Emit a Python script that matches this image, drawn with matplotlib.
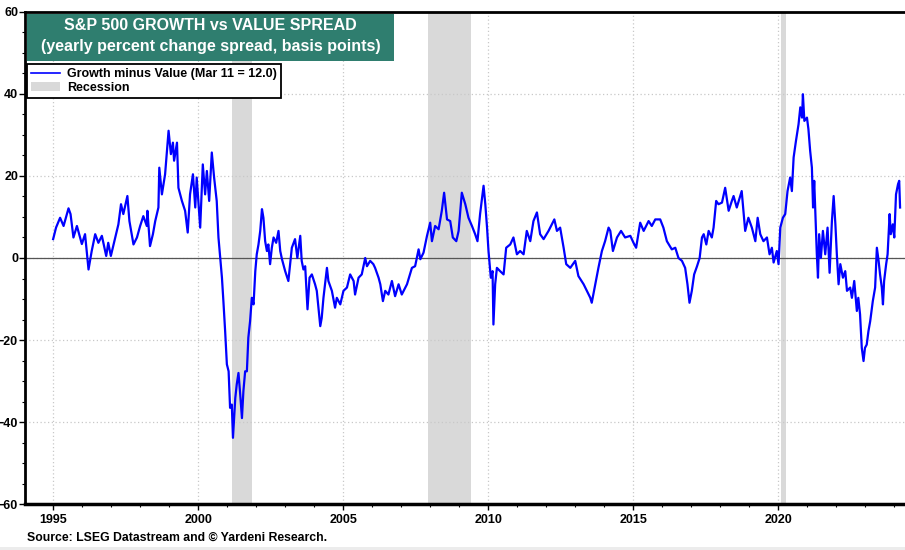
import matplotlib
matplotlib.use('Agg')
import matplotlib.pyplot as plt
from matplotlib.patches import Rectangle, Patch
from matplotlib.lines import Line2D
from matplotlib.ticker import MultipleLocator

plt.rcParams['font.family'] = ['Liberation Sans', 'DejaVu Sans']
plt.rcParams['font.weight'] = 'bold'

# Growth minus Value spread (decimal years)
years = [
    1995.00, 1995.10, 1995.24, 1995.36, 1995.53, 1995.60, 1995.70, 1995.82, 1995.99,
    1996.10, 1996.22, 1996.33, 1996.45, 1996.56, 1996.68, 1996.83, 1996.90, 1996.99,
    1997.14, 1997.25, 1997.34, 1997.42, 1997.56, 1997.63, 1997.77, 1997.89,
    1998.00, 1998.11, 1998.23, 1998.25, 1998.34, 1998.44, 1998.52, 1998.63, 1998.66,
    1998.75, 1998.86, 1998.98, 1999.06, 1999.13, 1999.17, 1999.27, 1999.32, 1999.44,
    1999.55, 1999.64, 1999.72, 1999.82, 1999.90, 1999.95,
    2000.07, 2000.16, 2000.24, 2000.30, 2000.38, 2000.47, 2000.55, 2000.64, 2000.70,
    2000.76, 2000.82, 2000.87, 2000.93, 2000.99,
    2001.05, 2001.10, 2001.16, 2001.20, 2001.28, 2001.33, 2001.39, 2001.45, 2001.51,
    2001.56, 2001.62, 2001.68, 2001.73, 2001.79, 2001.85, 2001.91, 2001.97,
    2002.02, 2002.08, 2002.14, 2002.20, 2002.25, 2002.31, 2002.37, 2002.42, 2002.48,
    2002.54, 2002.60, 2002.69, 2002.77, 2002.83, 2002.89,
    2003.00, 2003.11, 2003.17, 2003.23, 2003.34, 2003.42, 2003.52, 2003.57, 2003.63,
    2003.69, 2003.77, 2003.84, 2003.92,
    2004.03, 2004.09, 2004.21, 2004.26, 2004.32, 2004.44, 2004.49, 2004.61, 2004.72,
    2004.78, 2004.90,
    2005.01, 2005.13, 2005.24, 2005.36, 2005.41, 2005.53, 2005.64, 2005.76, 2005.82,
    2005.93,
    2006.04, 2006.10, 2006.22, 2006.28, 2006.37, 2006.45, 2006.56, 2006.68, 2006.79,
    2006.91,
    2007.02, 2007.20, 2007.37, 2007.48, 2007.60, 2007.66, 2007.77, 2007.89,
    2008.00, 2008.06, 2008.17, 2008.29, 2008.40, 2008.48, 2008.58, 2008.69, 2008.78,
    2008.90, 2008.98,
    2009.09, 2009.21, 2009.32, 2009.44, 2009.55, 2009.63, 2009.72, 2009.84, 2009.90,
    2009.96,
    2010.01, 2010.09, 2010.15, 2010.18, 2010.24, 2010.30, 2010.41, 2010.53, 2010.62,
    2010.76, 2010.87, 2010.99,
    2011.10, 2011.22, 2011.33, 2011.45, 2011.56, 2011.68, 2011.79, 2011.91,
    2012.08, 2012.28, 2012.37, 2012.48, 2012.60, 2012.69, 2012.83,
    2013.00, 2013.11, 2013.29, 2013.40, 2013.52, 2013.57, 2013.69, 2013.80, 2013.92,
    2014.03, 2014.15, 2014.21, 2014.30, 2014.44, 2014.58, 2014.72, 2014.90,
    2015.01, 2015.10, 2015.24, 2015.36, 2015.53, 2015.64, 2015.76, 2015.93,
    2016.04, 2016.16, 2016.33, 2016.45, 2016.56, 2016.68, 2016.79, 2016.87, 2016.94,
    2017.02, 2017.10, 2017.20, 2017.29, 2017.37, 2017.43, 2017.52, 2017.60, 2017.71,
    2017.77, 2017.86, 2017.94,
    2018.06, 2018.17, 2018.29, 2018.40, 2018.46, 2018.57, 2018.74, 2018.86, 2018.97,
    2019.09, 2019.21, 2019.29, 2019.38, 2019.49, 2019.61, 2019.70, 2019.78, 2019.84,
    2019.95,
    2020.01, 2020.07, 2020.16, 2020.24, 2020.32, 2020.41, 2020.47, 2020.53, 2020.61,
    2020.70, 2020.76, 2020.82, 2020.85, 2020.90, 2020.99,
    2021.04, 2021.10, 2021.16, 2021.20, 2021.24, 2021.29, 2021.33, 2021.37, 2021.41,
    2021.47, 2021.54, 2021.62, 2021.70, 2021.77, 2021.85, 2021.91, 2021.97,
    2022.02, 2022.08, 2022.14, 2022.23, 2022.31, 2022.37, 2022.48, 2022.54, 2022.62,
    2022.71, 2022.76, 2022.82, 2022.88, 2022.94, 2022.99,
    2023.05, 2023.11, 2023.17, 2023.26, 2023.34, 2023.40, 2023.46, 2023.51, 2023.57,
    2023.61, 2023.65, 2023.72, 2023.77, 2023.84, 2023.88, 2023.95,
    2024.00, 2024.06, 2024.13, 2024.17, 2024.20,
]
spread = [
    4.6, 7.4, 9.8, 7.8, 12.1, 10.7, 5.0, 7.8, 3.4,
    5.8, -2.8, 1.7, 5.8, 3.7, 5.4, 0.5, 3.7, 0.5,
    5.0, 8.2, 13.1, 10.7, 15.1, 9.0, 3.3, 5.0,
    7.8, 10.2, 7.8, 11.5, 2.9, 5.8, 9.0, 12.3, 22.0,
    15.5, 20.4, 31.0, 25.3, 28.1, 23.7, 28.1, 17.1, 13.9,
    11.5, 6.2, 15.5, 20.4, 12.3, 19.6,
    7.4, 22.8, 15.5, 21.2, 13.9, 25.7, 19.6, 13.9, 5.0,
    0.0, -4.8, -10.5, -17.8, -25.9,
    -27.6, -36.5, -35.7, -43.8, -34.1, -30.8, -28.0, -33.2, -39.0,
    -32.4, -27.6, -27.6, -19.4, -15.4, -9.7, -11.3, -3.2,
    0.9, 3.3, 6.6, 11.9, 9.8, 4.1, 1.7, 3.3, -1.5,
    2.5, 5.0, 3.7, 6.6, 1.7, -0.3,
    -3.2, -5.6, -1.5, 2.5, 4.6, 0.0, 5.4, -0.7, -2.8,
    -2.0, -12.5, -4.8, -4.0,
    -6.4, -8.0, -16.6, -14.6, -9.7, -2.4, -5.6, -8.0, -12.1,
    -9.7, -11.3,
    -8.0, -7.2, -4.0, -5.6, -8.9, -4.8, -4.0, 0.0, -2.0,
    -0.7,
    -1.5, -2.4, -4.8, -6.4, -10.5, -8.0, -8.9, -5.6, -9.3,
    -6.4,
    -8.9, -6.4, -2.4, -2.0, 2.1, -0.3, 1.3, 5.4,
    8.6, 4.1, 7.8, 7.0, 11.5, 15.9, 9.4, 9.0, 5.0,
    4.1, 6.6,
    15.9, 13.1, 9.8, 7.8, 5.8, 4.1, 10.7, 17.6, 13.1,
    7.4,
    1.7, -4.8, -3.2, -16.2, -6.4, -2.4, -3.2, -4.0, 2.5,
    3.3, 5.0, 0.9,
    1.7, 0.9, 6.6, 4.1, 9.0, 11.1, 5.8, 4.6,
    6.6, 9.4, 6.6, 7.4, 2.5, -1.5, -2.4,
    -0.7, -4.4, -6.4, -8.0, -9.7, -10.9, -6.4, -2.4, 1.7,
    4.1, 7.4, 6.6, 1.7, 5.0, 6.6, 5.0, 5.4,
    3.7, 2.5, 8.6, 6.6, 9.0, 7.8, 9.4, 9.4,
    7.4, 4.1, 2.1, 2.5, 0.0, -0.7, -2.4, -6.4, -10.9,
    -8.0, -4.0, -2.0, 0.0, 5.0, 5.8, 3.3, 6.6, 5.0,
    7.4, 13.9, 13.1,
    13.5, 17.1, 11.5, 13.9, 15.1, 12.3, 16.3, 6.6, 9.8,
    7.4, 4.1, 9.8, 5.8, 4.1, 5.0, 0.9, 2.5, -1.1,
    1.7,
    -1.5, 7.4, 9.8, 10.7, 16.3, 19.6, 16.3, 24.5, 28.5,
    32.6, 36.7, 34.2, 39.9, 33.4, 34.2,
    31.4, 26.1, 22.0, 12.3, 18.8, 9.0, 0.9, -4.8, 5.8,
    0.0, 6.6, 0.9, 7.4, -3.6, 9.0, 15.1, 8.2,
    0.9, -6.4, -1.5, -4.8, -3.2, -8.0, -7.2, -9.7, -5.6,
    -12.9, -9.7, -13.7, -21.9, -25.1, -21.9,
    -21.1, -17.8, -15.4, -10.5, -7.2, 2.5, -0.7, -4.0, -7.2,
    -11.3, -5.6, -1.5, 0.9, 10.7, 5.8, 8.2,
    5.0, 15.5, 18.0, 18.8, 12.3,
]

recession_start = [2001.18, 2007.92, 2020.08]
recession_end = [2001.85, 2009.41, 2020.27]

title_lines = ['S&P 500 GROWTH vs VALUE SPREAD',
               '(yearly percent change spread, basis points)']
series_label = 'Growth minus Value (Mar 11 = 12.0)'
source_text = 'Source: LSEG Datastream and \u00a9 Yardeni Research.'

W, H = 905, 550
fig = plt.figure(figsize=(W / 100, H / 100), dpi=100)
ax = fig.add_axes([25 / W, 1 - 504.3 / H, (W - 25) / W, (504.3 - 11.7) / H])

for s, e in zip(recession_start, recession_end):
    ax.axvspan(s, e, color='#d9d9d9', lw=0, zorder=0)

ax.grid(True, which='major', linestyle=(0, (1, 2)), color='#c8c8c8', lw=0.9, zorder=1)
ax.axhline(0, color='#555555', lw=0.9, zorder=2)
ax.plot(years, spread, color='#0000ff', lw=1.6, zorder=3)

ax.set_xlim(1994.03, 2024.37)
ax.set_ylim(-60, 60)
ax.xaxis.set_major_locator(MultipleLocator(5))
ax.xaxis.set_minor_locator(MultipleLocator(1))
ax.yaxis.set_major_locator(MultipleLocator(20))
ax.yaxis.set_minor_locator(MultipleLocator(5))

ax.tick_params(which='major', direction='out', length=4, width=1, labelsize=9)
ax.tick_params(which='minor', direction='out', length=2, width=0.8)
ax.tick_params(axis='x', pad=3)
ax.tick_params(axis='y', pad=1)
for lbl in ax.get_xticklabels() + ax.get_yticklabels():
    lbl.set_fontweight('bold')

ax.spines['left'].set_linewidth(2)
ax.spines['top'].set_linewidth(2)
ax.spines['bottom'].set_linewidth(2.5)
ax.spines['right'].set_visible(False)

# title box
fig.patches.append(Rectangle((27 / W, 1 - 60.7 / H), (394 - 27) / W, (60.7 - 14) / H,
                             transform=fig.transFigure, facecolor='#2f7e6f', edgecolor='none'))
fig.text(210.5 / W, 1 - 25.5 / H, title_lines[0], color='white', fontsize=11.5,
         fontweight='bold', ha='center', va='center')
fig.text(210.5 / W, 1 - 46.5 / H, title_lines[1], color='white', fontsize=11.5,
         fontweight='bold', ha='center', va='center')

# legend
handles = [Line2D([], [], color='#0000ff', lw=1.2), Patch(facecolor='#d9d9d9', edgecolor='none')]
leg = ax.legend(handles, [series_label, 'Recession'], loc='upper left',
                bbox_to_anchor=(27 / W, 1 - 64 / H), bbox_transform=fig.transFigure,
                fancybox=False, framealpha=1, edgecolor='black', borderpad=0.35,
                handlelength=2.3, handletextpad=0.55, labelspacing=0.1, borderaxespad=0,
                prop={'weight': 'bold', 'size': 9})
leg.get_frame().set_linewidth(1.3)

fig.text(27 / W, 1 - 537.5 / H, source_text, fontsize=8.8, fontweight='bold',
         ha='left', va='center')
fig.patches.append(Rectangle((0, 0), 1, 3 / H, transform=fig.transFigure,
                             facecolor='#ececec', edgecolor='none'))

fig.savefig('out.png', dpi=100)
